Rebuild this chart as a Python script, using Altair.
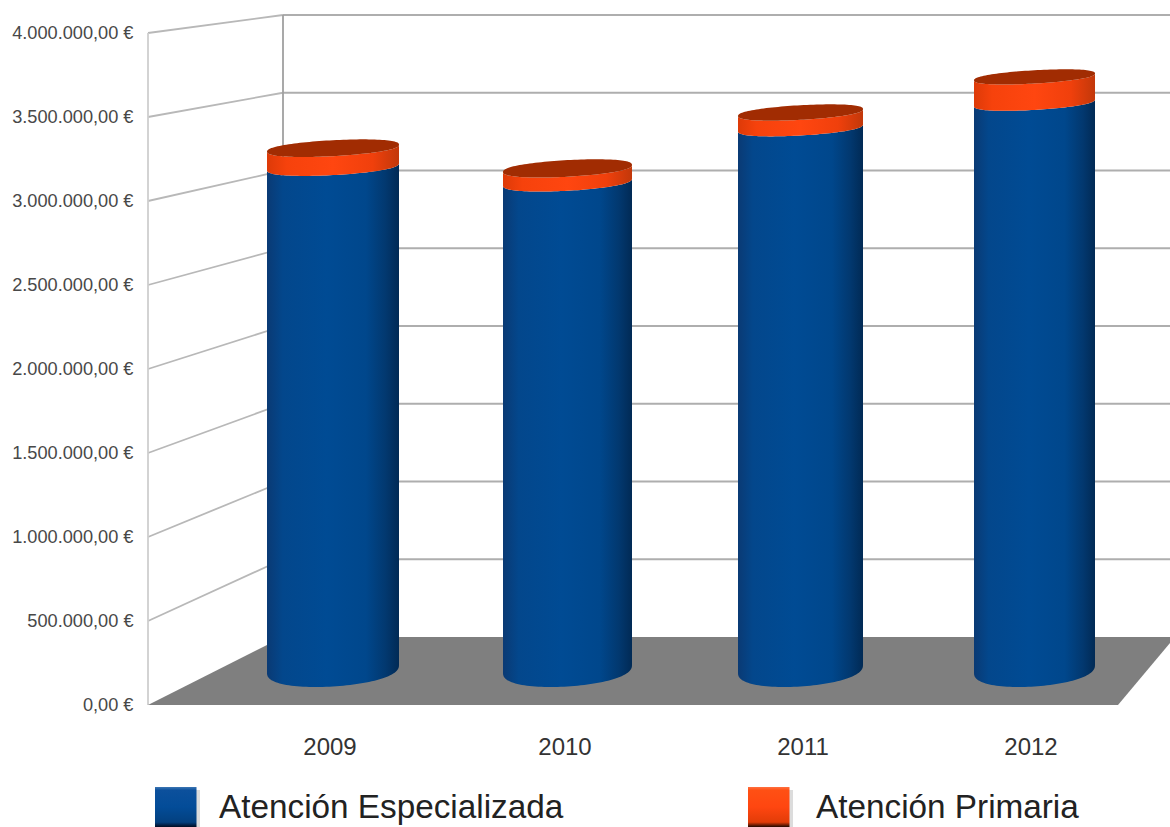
import altair as alt
import numpy as np
import pandas as pd

# Budget per year, in euros
years = ["2009", "2010", "2011", "2012"]
especializada = [3100000, 3005000, 3340000, 3495000]
primaria = [115000, 85000, 95000, 160000]
axis_ticks = [0, 500000, 1000000, 1500000, 2000000, 2500000, 3000000, 3500000, 4000000]
legend_names = ["Atención Especializada", "Atención Primaria"]

W, H = 1170, 827

# Box projection: pixels per euro and zero line of each depth plane
FRONT_ZERO, FRONT_K = 705.0, 672.0 / 4e6
BACK_ZERO, BACK_K = 637.0, 622.0 / 4e6
MID_ZERO, MID_K = 669.0, 0.162 / 1000.0
WALL_X, BACK_X, RIGHT_X = 148.0, 283.0, 1170.0
CENTERS = [333.0, 567.5, 800.5, 1034.5]
RADII = [66.0, 64.5, 62.5, 60.5]
LABEL_X = [330, 565, 803, 1031]


def to_axis(px):
    """Express a screen row as a value on the front-plane axis."""
    return (FRONT_ZERO - px) / FRONT_K


x_scale = alt.Scale(domain=[0, W], range=[0, W], nice=False, zero=False)
y_scale = alt.Scale(domain=[to_axis(H), to_axis(0)], range=[H, 0], nice=False, zero=False)
X = alt.X("x:Q", scale=x_scale, axis=None)
Y = alt.Y("y:Q", scale=y_scale, axis=None)


def lin_grad(stops, vertical=False):
    return alt.Gradient(
        gradient="linear",
        x1=0, y1=0,
        x2=0 if vertical else 1,
        y2=1 if vertical else 0,
        stops=[alt.GradientStop(offset=o, color=c) for o, c in stops],
    )


BLUE = lin_grad([(0, "#0a3a74"), (0.12, "#03478c"), (0.45, "#004b94"),
                 (0.75, "#00478c"), (0.9, "#02386f"), (1, "#012a55")])
ORANGE = lin_grad([(0, "#dd3a08"), (0.15, "#f6420c"), (0.5, "#ff4610"),
                   (0.8, "#f0400c"), (1, "#c2380a")])
CAP = "#a12c02"


def ring(cx, radius, value):
    """Front and back edge of the cylinder's rim at a given value."""
    u = np.sin(np.linspace(-np.pi / 2, np.pi / 2, 61))
    half = 17.5 - 9.5 * value / 3.2e6
    tilt = 4.0 - 0.5 * value / 3.2e6
    mid = MID_ZERO - MID_K * value - tilt * u
    bulge = half * (1 - u ** 2) ** 0.42
    return cx + radius * u, mid + bulge, mid - bulge


def band(cx, radius, low, high):
    xs, low_front, _ = ring(cx, radius, low)
    _, high_front, _ = ring(cx, radius, high)
    return pd.DataFrame({"x": xs, "y": to_axis(low_front), "y2": to_axis(high_front)})


def cap(cx, radius, value):
    xs, front, back = ring(cx, radius, value)
    return pd.DataFrame({"x": xs, "y": to_axis(front), "y2": to_axis(back)})


def segment(x0, y0, x1, y1):
    return {"x": x0, "x2": x1, "y": to_axis(y0), "y2": to_axis(y1)}


def rules(rows, color):
    return alt.Chart(pd.DataFrame(rows)).mark_rule(color=color, strokeWidth=1.8).encode(
        x=X, x2="x2:Q", y=Y, y2="y2:Q")


# Side wall and back wall lines for every axis tick
side_rows, back_rows = [], []
for t in axis_ticks:
    front_y = FRONT_ZERO - FRONT_K * t
    back_y = BACK_ZERO - BACK_K * t
    if t > 0:
        side_rows.append(segment(WALL_X, front_y, BACK_X, back_y))
        back_rows.append(segment(BACK_X, back_y, RIGHT_X, back_y))

side_lines = rules(side_rows, "#b8b8b8")
back_lines = rules(back_rows, "#aeaeae")
left_wall = rules([segment(WALL_X, 33, WALL_X, 705)], "#cfcfcf")
back_wall = rules([segment(BACK_X, 15, BACK_X, 637)], "#a0a0a0")

# Floor of the box, running off the right edge
floor_df = pd.DataFrame({
    "x": [WALL_X, BACK_X, 1118.0, RIGHT_X],
    "y": to_axis(np.array([705.0, 637.0, 637.0, 637.0])),
    "y2": to_axis(np.array([705.0, 705.0, 705.0, 643.0])),
})
floor = alt.Chart(floor_df).mark_area(color="#7f7f7f", line=False, interpolate="linear").encode(
    x=X, y=Y, y2="y2:Q")

# One cylinder per year: blue body, orange band, dark lid
cylinders = []
for cx, r, e, p in zip(CENTERS, RADII, especializada, primaria):
    total = e + p
    cylinders.append(alt.Chart(band(cx, r, 0, e)).mark_area(color=BLUE).encode(x=X, y=Y, y2="y2:Q"))
    cylinders.append(alt.Chart(band(cx, r, e, total)).mark_area(color=ORANGE).encode(x=X, y=Y, y2="y2:Q"))
    cylinders.append(alt.Chart(cap(cx, r, total)).mark_area(color=CAP).encode(x=X, y=Y, y2="y2:Q"))

# Value axis drawn with Spanish number formatting
spanish_label = ("replace(replace(replace(format(datum.value, ',.2f'), /,/g, '#'), /\\./g, ','), /#/g, '.') + ' €'")
value_axis = alt.Chart(pd.DataFrame({"v": axis_ticks})).mark_point(opacity=0).encode(
    y=alt.Y("v:Q", scale=y_scale, axis=alt.Axis(
        values=axis_ticks, labelExpr=spanish_label, domain=False, ticks=False, grid=False,
        title=None, offset=-133, labelPadding=0, labelFont="Liberation Sans", labelFontSize=18.2,
        labelColor="#484848", labelOverlap=False, labelBound=False)),
    x=alt.value(0))

year_labels = alt.Chart(pd.DataFrame({"x": LABEL_X, "y": to_axis(748.0), "t": years})).mark_text(
    font="Liberation Sans", fontSize=24, color="#333333", align="center", baseline="middle"
).encode(x=X, y=Y, text="t:N")

# Legend swatches and names
swatch_blue = lin_grad([(0, "#3c76b4"), (0.08, "#0c509c"), (0.5, "#034c98"),
                        (0.88, "#03407f"), (1, "#000c22")], vertical=True)
swatch_orange = lin_grad([(0, "#ff7040"), (0.08, "#ff5014"), (0.5, "#ff4610"),
                          (0.88, "#e23c08"), (1, "#200800")], vertical=True)
swatches = []
for left, fill in zip([155, 748], [swatch_blue, swatch_orange]):
    swatches.append(alt.Chart(pd.DataFrame({
        "x": [left + 41], "x2": [left + 45], "y": [to_axis(790.0)], "y2": [to_axis(827.0)],
    })).mark_rect(color="#9a9a9a", opacity=0.35).encode(x=X, x2="x2:Q", y=Y, y2="y2:Q"))
    swatches.append(alt.Chart(pd.DataFrame({
        "x": [left], "x2": [left + 41.5], "y": [to_axis(787.0)], "y2": [to_axis(827.0)],
    })).mark_rect(color=fill).encode(x=X, x2="x2:Q", y=Y, y2="y2:Q"))

legend_text = alt.Chart(pd.DataFrame({"x": [219, 816], "y": to_axis(808.0), "t": legend_names})).mark_text(
    font="Liberation Sans", fontSize=33.3, color="#222222", align="left", baseline="middle"
).encode(x=X, y=Y, text="t:N")

chart = alt.layer(
    side_lines, back_lines, left_wall, back_wall, floor, *cylinders,
    value_axis, year_labels, *swatches, legend_text
).resolve_axis(y="independent").properties(
    width=W, height=H, padding=0, autosize=alt.AutoSizeParams(type="none"), background="#ffffff"
).configure_view(stroke=None)

chart.save("out.html", embed_options={"renderer": "svg", "actions": False})
